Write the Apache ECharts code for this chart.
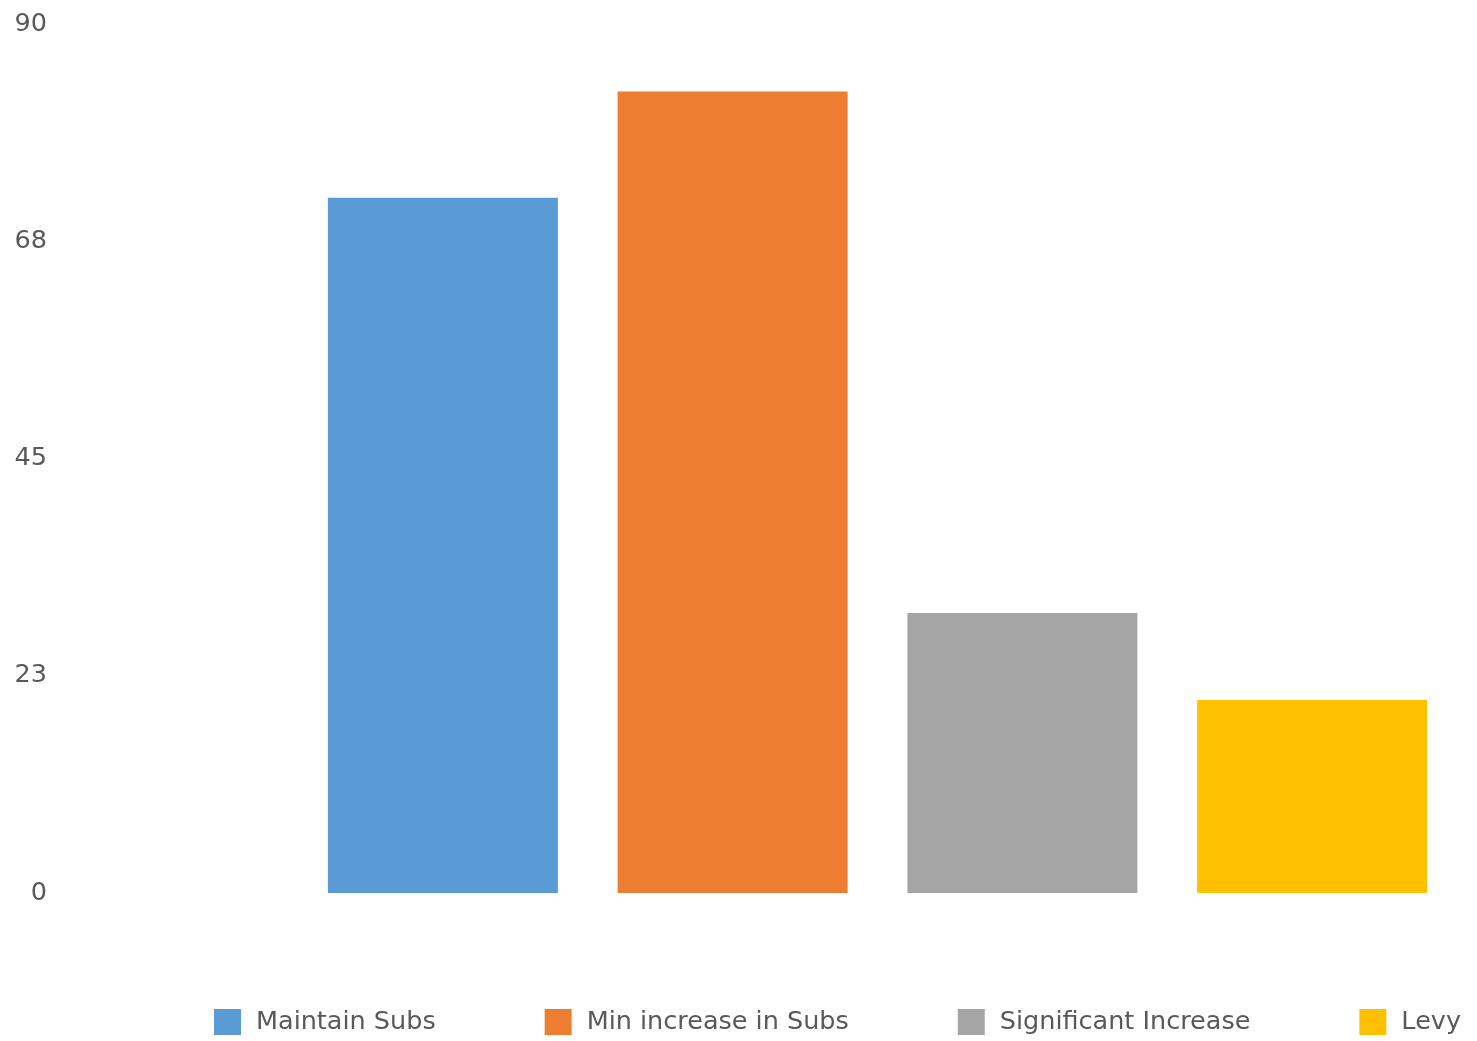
<!DOCTYPE html>
<html><head><meta charset="utf-8">
<script src="https://cdn.jsdelivr.net/npm/echarts@6/dist/echarts.min.js"></script>
<style>html,body{margin:0;padding:0;background:#fff}#c{width:1477px;height:1041px}</style>
</head><body><div id="c"></div>
<script>
var categories = ['Maintain Subs', 'Min increase in Subs', 'Significant Increase', 'Levy'];
var seriesValues = [72, 83, 29, 20];
var colors = ['#5B9BD5', '#ED7D31', '#A5A5A5', '#FFC000'];
var yTicks = [0, 23, 45, 68, 90];

var chart = echarts.init(document.getElementById('c'));
var series = categories.map(function (name, i) {
  var d = categories.map(function (_, j) { return j === i ? seriesValues[i] : null; });
  return { name: name, type: 'bar', stack: 's', data: d, barWidth: 230, itemStyle: { color: colors[i] } };
});
chart.setOption({
  animation: false,
  textStyle: { fontFamily: 'DejaVu Sans' },
  grid: { left: 298, right: 20, top: 24, bottom: 148 },
  xAxis: { type: 'category', data: categories, show: false },
  yAxis: {
    type: 'value', min: 0, max: 90, interval: 22.5,
    splitLine: { show: false }, axisLine: { show: false }, axisTick: { show: false },
    axisLabel: { margin: 251, color: '#595959', fontSize: 25.5, fontFamily: 'DejaVu Sans', padding: [6, 0, 0, 0],
      formatter: function (v) { return String(yTicks[Math.round(v / 22.5)]); } }
  },
  legend: {
    left: 209, top: 1004, itemWidth: 27, itemHeight: 26, itemGap: 109,
    icon: 'rect',
    textStyle: { color: '#595959', fontSize: 25.5, fontFamily: 'DejaVu Sans', padding: [0, 0, 0, 10] },
    data: categories
  },
  series: series
});
</script></body></html>
